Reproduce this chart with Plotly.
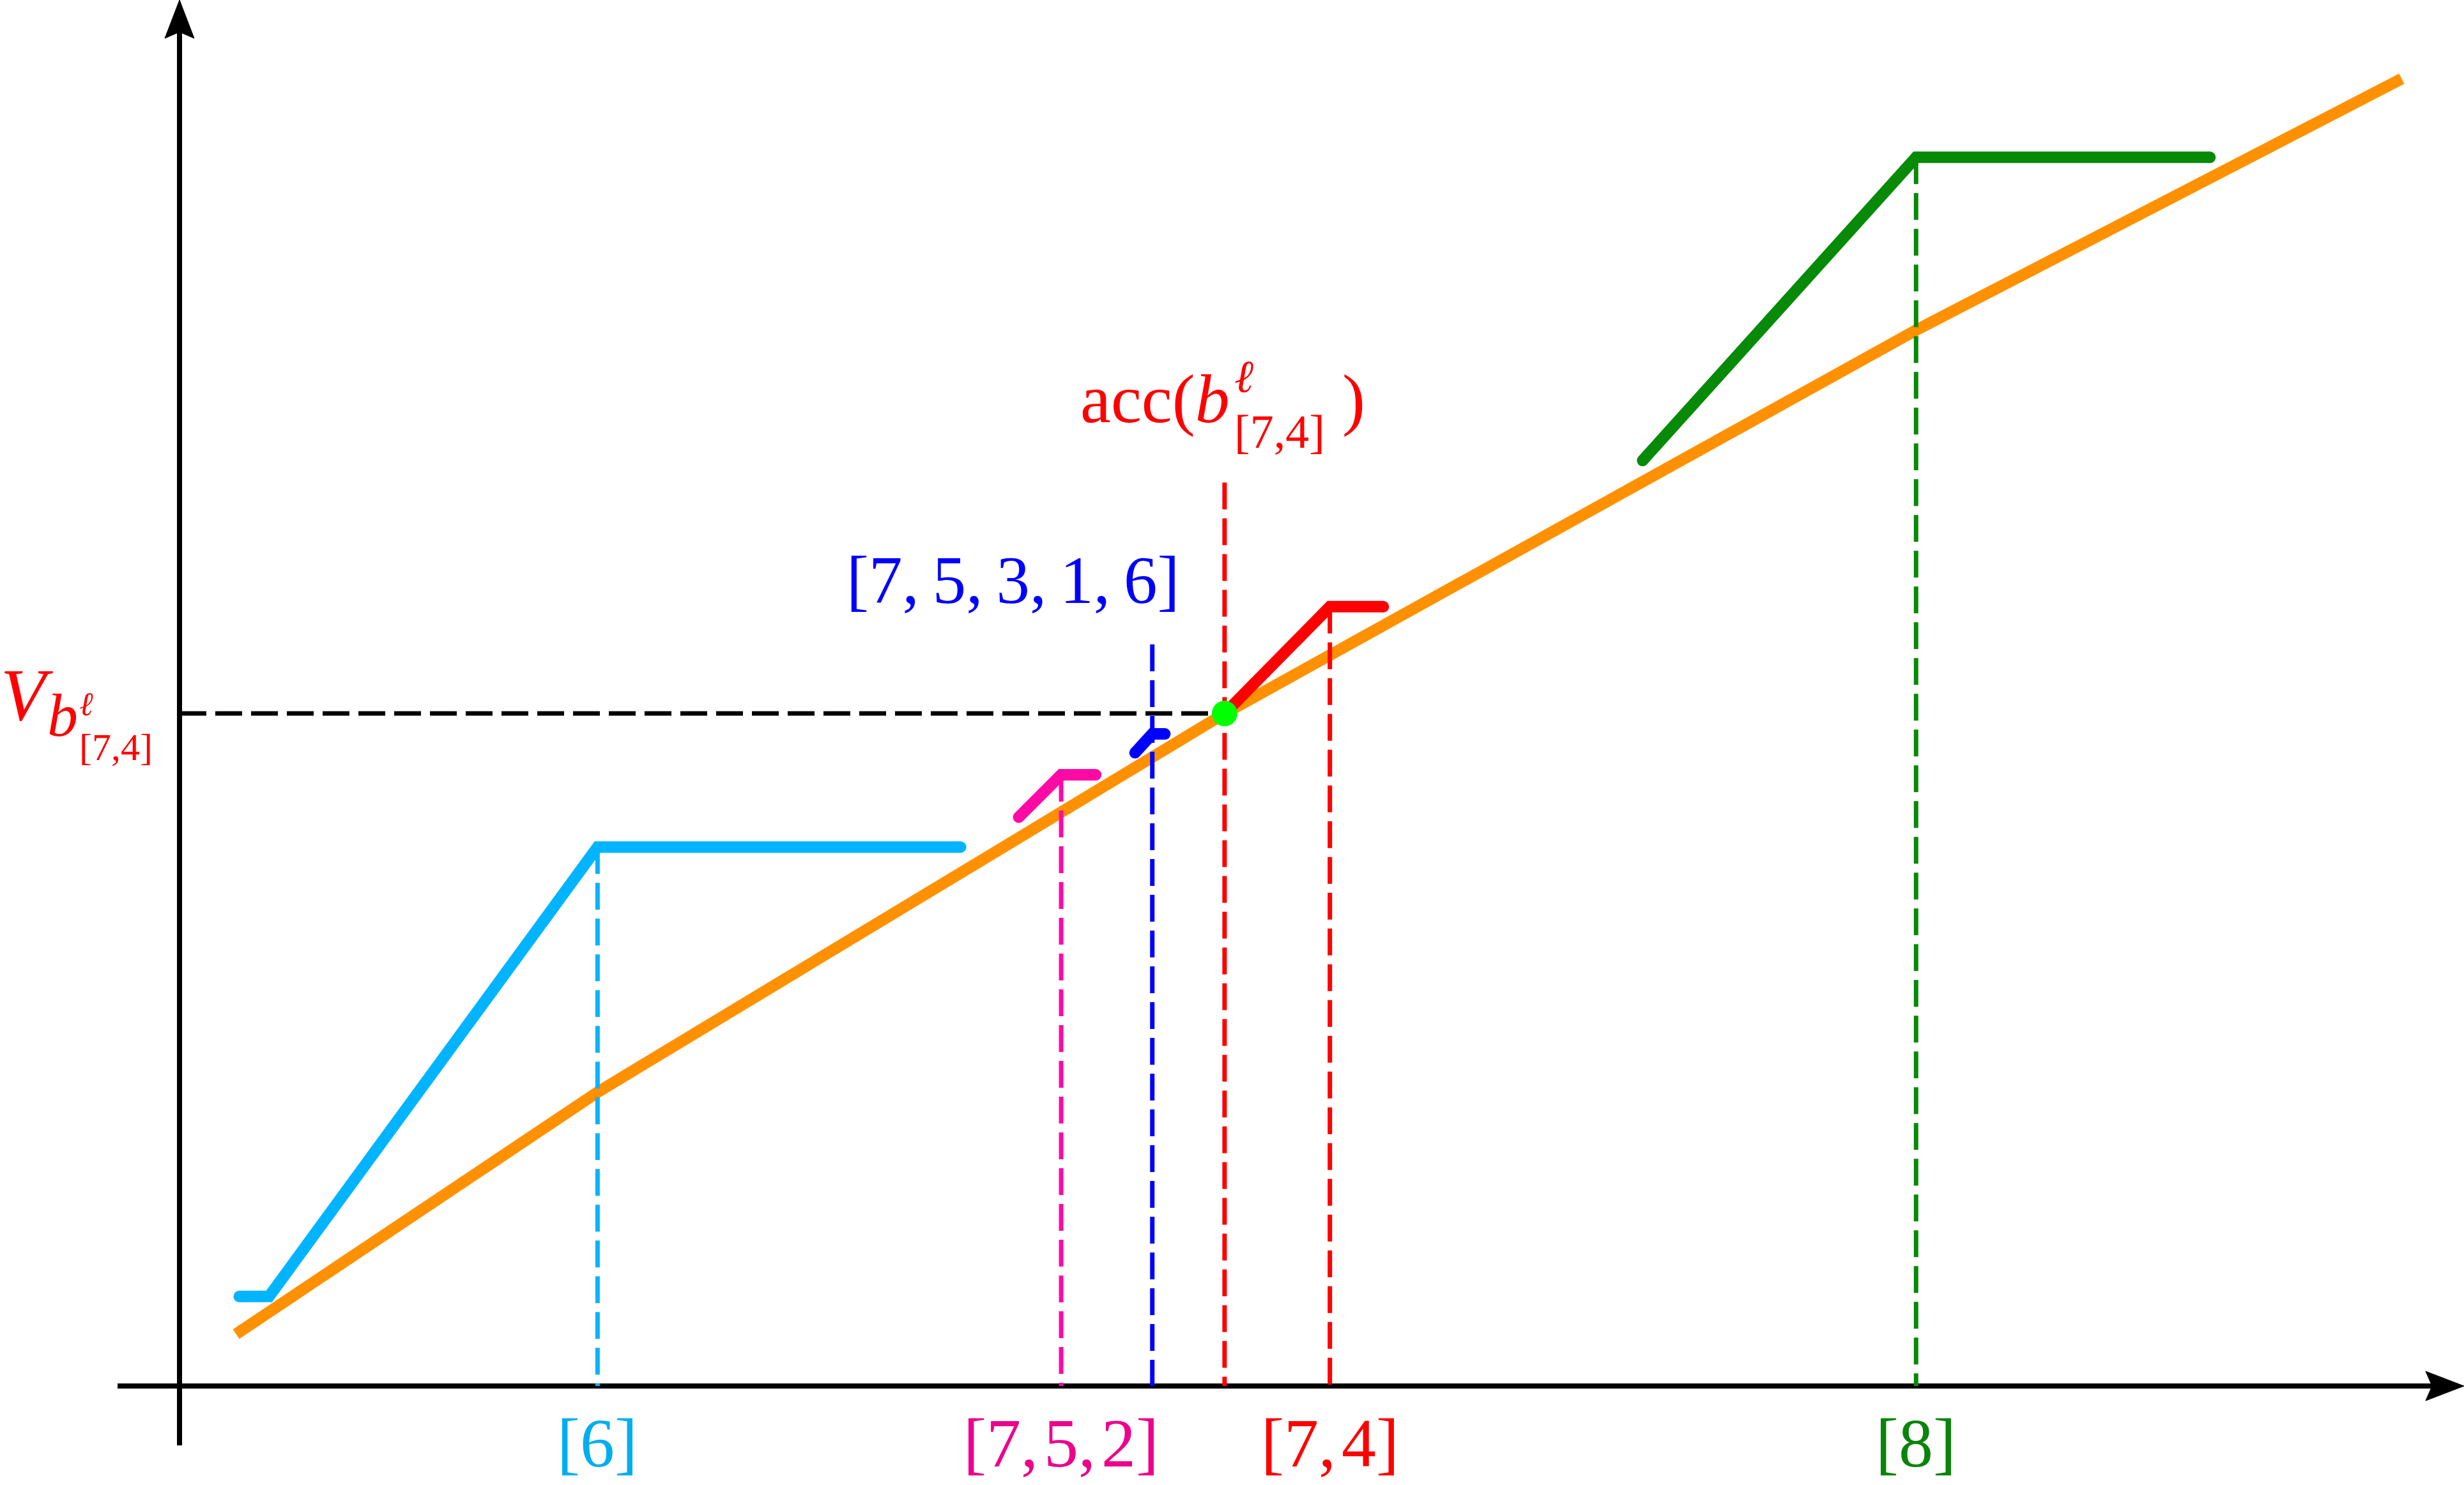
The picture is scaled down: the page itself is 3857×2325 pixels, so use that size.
import plotly.graph_objects as go

# ---------------- data (chart units, origin at the axes' crossing) ----------------
orange_x = [0.36, 2.66, 6.65, 11.05, 14.14]
orange_y = [0.33, 1.87, 4.28, 6.72, 8.32]

cyan_x = [0.38, 0.57, 2.66, 4.97]
cyan_y = [0.57, 0.57, 3.43, 3.43]

magenta_x = [5.34, 5.61, 5.83]
magenta_y = [3.62, 3.89, 3.89]

blue_x = [6.08, 6.19, 6.27]
blue_y = [4.03, 4.15, 4.15]

red_x = [6.65, 7.32, 7.66]
red_y = [4.28, 4.96, 4.96]

green_x = [9.31, 11.05, 12.92]
green_y = [5.89, 7.82, 7.82]

acc_x = 6.65        # acc(b) position
acc_top = 5.75
blue_guide_top = 4.72
v_level = 4.28      # V_b value

tick_x = [2.66, 5.61, 7.32, 11.05]
tick_labels = ["[6]", "[7,\u200a5,\u200a2]", "[7,\u200a4]", "[8]"]
tick_colors = ["#00AEEF", "#EC008C", "#FF0000", "#0A840A"]
blue_label = "[7,\u20095,\u20093,\u20091,\u20096]"

# ---------------- geometry of the canvas ----------------
W, H = 3857, 2325
PX = 246.0          # pixels per chart unit
X0, Y0 = 281.0, 2170.0


def ux(px):
    return (px - X0) / PX


def uy(py):
    return (Y0 - py) / PX


C_ORANGE = "#FF9100"
C_CYAN = "#00B4FF"
C_MAGENTA = "#FF0AA5"
C_BLUE = "#0000FF"
C_RED = "#FF0000"
C_GREEN = "#078A07"
C_DOT = "#00FF00"

THICK = 18
DASHW = 7
DASH = "42px,14px"

fig = go.Figure()

# orange piecewise-linear curve (butt caps)
fig.add_trace(go.Scatter(x=orange_x, y=orange_y, mode="lines",
                         line=dict(color=C_ORANGE, width=THICK)))


def thick(xs, ys, color, caps):
    fig.add_trace(go.Scatter(x=xs, y=ys, mode="lines", line=dict(color=color, width=THICK)))
    cx = [xs[i] for i in caps]
    cy = [ys[i] for i in caps]
    fig.add_trace(go.Scatter(x=cx, y=cy, mode="markers",
                             marker=dict(color=color, size=THICK, line=dict(width=0))))


thick(cyan_x, cyan_y, C_CYAN, [0, len(cyan_x) - 1])
thick(magenta_x, magenta_y, C_MAGENTA, [0, len(magenta_x) - 1])
thick(blue_x, blue_y, C_BLUE, [0, len(blue_x) - 1])
thick(red_x, red_y, C_RED, [len(red_x) - 1])
thick(green_x, green_y, C_GREEN, [0, len(green_x) - 1])


def guide(x, top, color):
    fig.add_trace(go.Scatter(x=[x, x], y=[top, 0], mode="lines",
                             line=dict(color=color, width=DASHW, dash=DASH)))


guide(cyan_x[2], cyan_y[2], C_CYAN)
guide(magenta_x[1], magenta_y[1], C_MAGENTA)
guide(blue_x[1], blue_guide_top, C_BLUE)
guide(acc_x, acc_top, C_RED)
guide(red_x[1], red_y[1], C_RED)
guide(green_x[1], green_y[1], C_GREEN)

# horizontal black dashed line at V level
fig.add_trace(go.Scatter(x=[0, acc_x], y=[v_level, v_level], mode="lines",
                         line=dict(color="black", width=DASHW, dash=DASH)))

# green point
fig.add_trace(go.Scatter(x=[acc_x], y=[v_level], mode="markers",
                         marker=dict(color=C_DOT, size=40, line=dict(width=0))))

# ---------------- axes with arrow heads ----------------
xr = [ux(0), ux(W)]
yr = [uy(H), uy(0)]
AL = 60 / PX
AHW = 23 / PX
AIN = 50 / PX
AW = 8
x_tip = xr[1]
y_tip = yr[1]
shapes = [
    dict(type="line", x0=ux(184), y0=0, x1=x_tip - AIN, y1=0,
         line=dict(color="black", width=AW), layer="below"),
    dict(type="line", x0=0, y0=uy(2263), x1=0, y1=y_tip - AIN,
         line=dict(color="black", width=AW), layer="below"),
    dict(type="path",
         path=f"M {x_tip},0 L {x_tip - AL},{AHW} L {x_tip - AIN},0 L {x_tip - AL},{-AHW} Z",
         fillcolor="black", line=dict(color="black", width=1), layer="above"),
    dict(type="path",
         path=f"M 0,{y_tip} L {AHW},{y_tip - AL} L 0,{y_tip - AIN} L {-AHW},{y_tip - AL} Z",
         fillcolor="black", line=dict(color="black", width=1), layer="above"),
]

# ---------------- text ----------------
FONT = "Liberation Serif"
annotations = []


def text(t, x_px, base_px, size, color, xanchor="center", x_units=None):
    # place the text so that its baseline sits at base_px (canvas pixels)
    yc = base_px - 0.3375 * size
    annotations.append(dict(
        text=t, x=x_units if x_units is not None else ux(x_px), y=uy(yc),
        xref="x", yref="y", showarrow=False, xanchor=xanchor, yanchor="middle",
        borderpad=0, font=dict(family=FONT, size=size, color=color)))


for xv, lab, col in zip(tick_x, tick_labels, tick_colors):
    text(lab, None, 2296, 108, col, x_units=xv)

text(blue_label, 1586, 944, 105, C_BLUE)

# acc(b^l_[7,4])
text("acc(<i>b</i>", 1690, 661, 108, C_RED, xanchor="left")
text("<i>\u2113</i>", 1931, 614, 72, C_RED, xanchor="left")
text("[7,4]", 1931, 701, 74, C_RED, xanchor="left")
text(")", 2119, 661, 108, C_RED)

# V_{b^l_[7,4]}
text("<i>V</i>", 0, 1127, 116, C_RED, xanchor="left")
text("<i>b</i>", 73, 1152, 96, C_RED, xanchor="left")
text("<i>\u2113</i>", 123, 1120, 52, C_RED, xanchor="left")
text("[7,4]", 123, 1190, 60, C_RED, xanchor="left")

fig.update_layout(
    width=W, height=H,
    margin=dict(l=0, r=0, t=0, b=0, pad=0),
    paper_bgcolor="white", plot_bgcolor="white",
    showlegend=False, hovermode=False,
    xaxis=dict(range=xr, visible=False, fixedrange=True),
    yaxis=dict(range=yr, visible=False, fixedrange=True),
    shapes=shapes, annotations=annotations,
)

fig.write_html("out.html", config={"displayModeBar": False},
               post_script="document.body.style.margin='0';document.body.style.overflow='hidden';")
